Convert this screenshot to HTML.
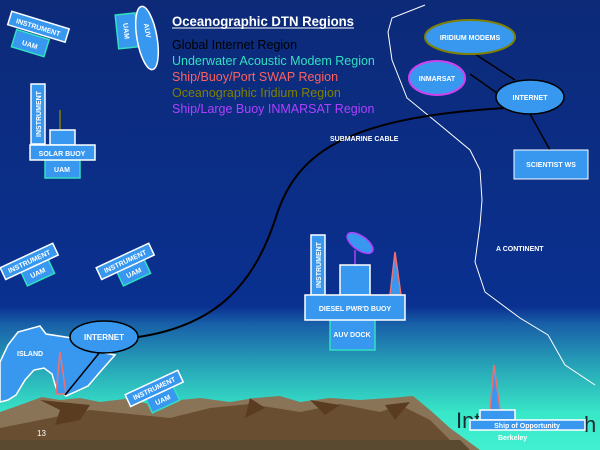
<!DOCTYPE html>
<html><head><meta charset="utf-8"><style>
html,body{margin:0;padding:0;width:600px;height:450px;overflow:hidden;background:#0a2a80}
svg{display:block}
text{font-family:"Liberation Sans",sans-serif}
</style></head><body>
<svg width="600" height="450" viewBox="0 0 600 450" xmlns="http://www.w3.org/2000/svg">
<defs>
<linearGradient id="bg" x1="0" y1="0" x2="0" y2="1">
<stop offset="0" stop-color="#0c2a78"/>
<stop offset="0.68" stop-color="#0a3090"/>
<stop offset="0.72" stop-color="#1860a8"/>
<stop offset="0.82" stop-color="#28a8b8"/>
<stop offset="0.92" stop-color="#38e8c8"/>
<stop offset="1" stop-color="#40f0d0"/>
</linearGradient>
</defs>
<rect width="600" height="450" fill="url(#bg)"/>
<!-- mountains -->
<path d="M0,412 L20,405 L42,397 L60,400 L80,398 L100,402 L125,399 L150,404 L180,400 L200,398 L230,402 L255,398 L280,396 L300,402 L330,398 L360,400 L390,398 L413,396 L430,410 L450,428 L480,450 L0,450 Z" fill="#8a7458"/>
<path d="M0,450 L0,428 L50,418 L90,410 L130,414 L170,418 L210,408 L250,404 L300,412 L340,404 L380,412 L400,405 L430,420 L460,450 Z" fill="#6a4e32"/>
<path d="M40,400 L60,410 L55,425 L80,420 L90,405 Z M250,398 L265,408 L245,418 Z M310,400 L325,415 L340,405 Z M385,405 L395,420 L410,402 Z" fill="#5a3c20"/>
<path d="M0,440 L460,440 L470,450 L0,450 Z" fill="#5a4a30"/>
<!-- continent line -->
<path d="M425,5 L392,18 L388,32 L392,60 L407,98 L440,125 L470,150 L480,170 L482,200 L480,225 L475,262 L485,292 L520,318 L548,335 L565,365 L595,385" fill="none" stroke="#fff" stroke-width="1"/>
<!-- island -->
<path d="M0,362 L8,345 L18,332 L40,326 L46,334 L72,338 L100,352 L115,355 L100,372 L88,386 L66,396 L56,388 L52,374 L44,368 L34,370 L25,380 L16,395 L8,400 L0,402 Z" fill="#3898f0" stroke="#fff" stroke-width="1.5"/>
<text x="17" y="356" font-size="7" font-weight="bold" fill="#fff">ISLAND</text>
<path d="M60,352 L56,394 L66,394 Z" fill="#3898f0" stroke="#f07070" stroke-width="1.5"/>
<line x1="100" y1="352" x2="65" y2="395" stroke="#000" stroke-width="1.5"/>
<!-- cable -->
<path d="M138,337 C 220,325 255,280 275,220 C 295,155 340,118 505,108" fill="none" stroke="#000" stroke-width="2"/>
<ellipse cx="104" cy="337" rx="34" ry="16" fill="#3898f0" stroke="#000" stroke-width="1.5"/>
<text x="104" y="340" font-size="8" font-weight="bold" fill="#fff" text-anchor="middle">INTERNET</text>
<!-- title & legend -->
<text x="172" y="26" font-size="14" font-weight="bold" fill="#fff" textLength="182" lengthAdjust="spacingAndGlyphs">Oceanographic DTN Regions</text>
<line x1="172" y1="28" x2="354" y2="28" stroke="#fff" stroke-width="1"/>
<text x="172" y="49" font-size="12.5" fill="#000">Global Internet Region</text>
<text x="172" y="65" font-size="12.5" fill="#30e0c0">Underwater Acoustic Modem Region</text>
<text x="172" y="81" font-size="12.5" fill="#ff6060">Ship/Buoy/Port SWAP Region</text>
<text x="172" y="97" font-size="12.5" fill="#808000">Oceanographic Iridium Region</text>
<text x="172" y="113" font-size="12.5" fill="#b040ff">Ship/Large Buoy INMARSAT Region</text>
<!-- top-left instrument -->
<g transform="rotate(17 38 35)">
<rect x="16" y="36" width="34" height="18" fill="#3898f0" stroke="#30e0c0" stroke-width="1.5"/>
<text x="33" y="49" font-size="7" font-weight="bold" fill="#fff" text-anchor="middle">UAM</text>
<rect x="6" y="20" width="60" height="14" fill="#3898f0" stroke="#fff" stroke-width="1.5"/>
<text x="36" y="30" font-size="7" font-weight="bold" fill="#fff" text-anchor="middle">INSTRUMENT</text>
</g>
<!-- UAM/AUV -->
<g transform="rotate(-6 126 32)">
<rect x="117" y="14" width="20" height="34" fill="#3898f0" stroke="#30e0c0" stroke-width="1.5"/>
<text transform="translate(124,31) rotate(90)" font-size="7" font-weight="bold" fill="#fff" text-anchor="middle">UAM</text>
</g>
<ellipse cx="147" cy="38" rx="10" ry="32" fill="#3898f0" stroke="#fff" stroke-width="1.5" transform="rotate(-10 147 38)"/>
<text transform="translate(145,31) rotate(80)" font-size="7" font-weight="bold" fill="#fff" text-anchor="middle">AUV</text>
<!-- solar buoy -->
<rect x="45" y="160" width="35" height="18" fill="#3898f0" stroke="#30e0c0" stroke-width="1.5"/>
<text x="62" y="172" font-size="7" font-weight="bold" fill="#fff" text-anchor="middle">UAM</text>
<rect x="31" y="84" width="14" height="60" fill="#3898f0" stroke="#fff" stroke-width="1.5"/>
<text transform="translate(41,114) rotate(-90)" font-size="7" font-weight="bold" fill="#fff" text-anchor="middle">INSTRUMENT</text>
<line x1="60" y1="110" x2="60" y2="130" stroke="#808000" stroke-width="1.5"/>
<rect x="50" y="130" width="25" height="15" fill="#3898f0" stroke="#fff" stroke-width="1.5"/>
<rect x="30" y="145" width="65" height="15" fill="#3898f0" stroke="#fff" stroke-width="1.5"/>
<text x="62" y="156" font-size="7" font-weight="bold" fill="#fff" text-anchor="middle">SOLAR BUOY</text>
<!-- instrument pairs -->
<g transform="rotate(-25 32 265)">
<rect x="19" y="266" width="30" height="16" fill="#3898f0" stroke="#30e0c0" stroke-width="1.5"/>
<text x="34" y="277" font-size="7" font-weight="bold" fill="#fff" text-anchor="middle">UAM</text>
<rect x="2" y="254" width="58" height="13" fill="#3898f0" stroke="#fff" stroke-width="1.5"/>
<text x="31" y="263" font-size="7" font-weight="bold" fill="#fff" text-anchor="middle">INSTRUMENT</text>
</g>
<g transform="rotate(-25 128 265)">
<rect x="115" y="266" width="30" height="16" fill="#3898f0" stroke="#30e0c0" stroke-width="1.5"/>
<text x="130" y="277" font-size="7" font-weight="bold" fill="#fff" text-anchor="middle">UAM</text>
<rect x="98" y="254" width="58" height="13" fill="#3898f0" stroke="#fff" stroke-width="1.5"/>
<text x="127" y="263" font-size="7" font-weight="bold" fill="#fff" text-anchor="middle">INSTRUMENT</text>
</g>
<g transform="rotate(-25 157 392)">
<rect x="144" y="393" width="30" height="16" fill="#3898f0" stroke="#30e0c0" stroke-width="1.5"/>
<text x="159" y="404" font-size="7" font-weight="bold" fill="#fff" text-anchor="middle">UAM</text>
<rect x="127" y="381" width="58" height="13" fill="#3898f0" stroke="#fff" stroke-width="1.5"/>
<text x="156" y="390" font-size="7" font-weight="bold" fill="#fff" text-anchor="middle">INSTRUMENT</text>
</g>
<!-- diesel buoy -->
<rect x="330" y="319" width="45" height="31" fill="#3898f0" stroke="#30e0c0" stroke-width="1.5"/>
<text x="352" y="337" font-size="7" font-weight="bold" fill="#fff" text-anchor="middle">AUV DOCK</text>
<rect x="311" y="235" width="14" height="60" fill="#3898f0" stroke="#fff" stroke-width="1.5"/>
<text transform="translate(321,265) rotate(-90)" font-size="7" font-weight="bold" fill="#fff" text-anchor="middle">INSTRUMENT</text>
<line x1="355" y1="250" x2="355" y2="265" stroke="#b040ff" stroke-width="1.5"/>
<ellipse cx="360" cy="243" rx="15" ry="7" fill="#3898f0" stroke="#b040ff" stroke-width="1.5" transform="rotate(35 360 243)"/>
<rect x="340" y="265" width="30" height="30" fill="#3898f0" stroke="#fff" stroke-width="1.5"/>
<path d="M395,252 L390,295 L401,295 Z" fill="#3898f0" stroke="#f07070" stroke-width="1.5"/>
<rect x="305" y="295" width="100" height="25" fill="#3898f0" stroke="#fff" stroke-width="1.5"/>
<text x="355" y="311" font-size="7" font-weight="bold" fill="#fff" text-anchor="middle">DIESEL PWR'D BUOY</text>
<text x="496" y="251" font-size="7" font-weight="bold" fill="#fff">A CONTINENT</text>
<text x="330" y="141" font-size="7" font-weight="bold" fill="#fff">SUBMARINE CABLE</text>
<!-- right cluster -->
<line x1="475" y1="54" x2="515" y2="80" stroke="#000" stroke-width="1.5"/>
<line x1="470" y1="74" x2="497" y2="93" stroke="#000" stroke-width="1.5"/>
<line x1="530" y1="114" x2="550" y2="150" stroke="#000" stroke-width="1.5"/>
<ellipse cx="470" cy="37" rx="45" ry="17" fill="#3898f0" stroke="#808000" stroke-width="2"/>
<text x="470" y="40" font-size="7" font-weight="bold" fill="#fff" text-anchor="middle">IRIDIUM MODEMS</text>
<ellipse cx="437" cy="78" rx="28" ry="17" fill="#3898f0" stroke="#d040f0" stroke-width="2"/>
<text x="437" y="81" font-size="7" font-weight="bold" fill="#fff" text-anchor="middle">INMARSAT</text>
<ellipse cx="530" cy="97" rx="34" ry="17" fill="#3898f0" stroke="#000" stroke-width="1.5"/>
<text x="530" y="100" font-size="7" font-weight="bold" fill="#fff" text-anchor="middle">INTERNET</text>
<rect x="514" y="150" width="74" height="29" fill="#3898f0" stroke="#fff" stroke-width="1"/>
<text x="551" y="167" font-size="7" font-weight="bold" fill="#fff" text-anchor="middle">SCIENTIST WS</text>
<!-- ship -->
<text x="456" y="428" font-size="22" fill="#1a2a30">Int</text>
<text x="584" y="432" font-size="22" fill="#1a2a30">h</text>
<path d="M494,365 L490,410 L500,410 Z" fill="#3898f0" stroke="#f07070" stroke-width="1.5"/>
<rect x="480" y="410" width="35" height="10" fill="#3898f0" stroke="#fff" stroke-width="1.5"/>
<rect x="470" y="420" width="115" height="10" fill="#3898f0" stroke="#fff" stroke-width="1.5"/>
<text x="527" y="428" font-size="7" font-weight="bold" fill="#fff" text-anchor="middle">Ship of Opportunity</text>
<text x="498" y="440" font-size="7" font-weight="bold" fill="#fff">Berkeley</text>
<text x="37" y="436" font-size="8" fill="#fff">13</text>
</svg>
</body></html>
